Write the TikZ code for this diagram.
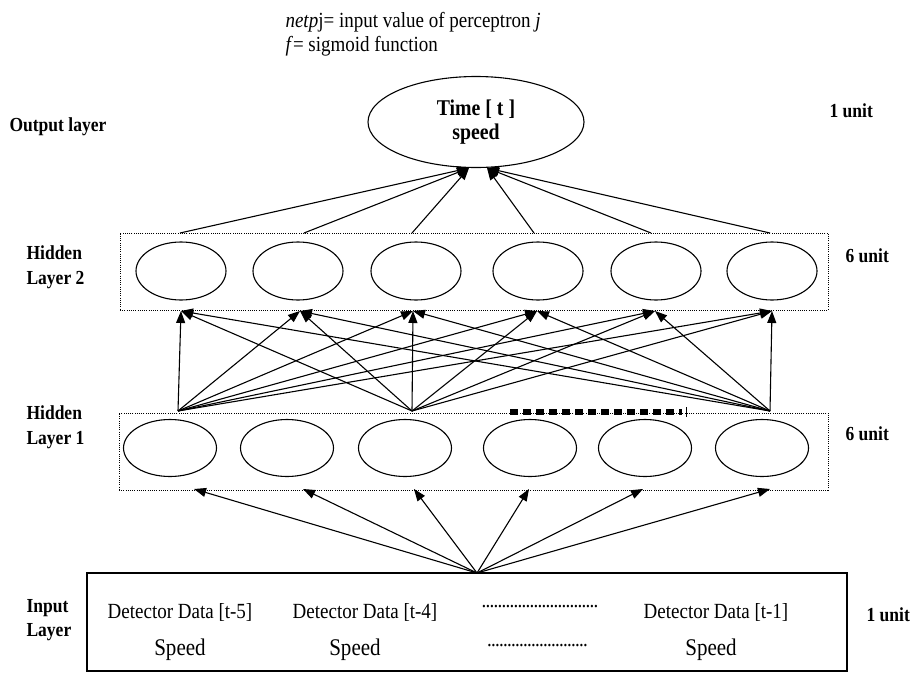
\documentclass[tikz,border=0pt]{standalone}
\usepackage{fontspec}
\setmainfont[FakeStretch=0.88]{Liberation Serif}
\usetikzlibrary{arrows.meta,positioning,shapes.geometric}
\newcommand{\dotrow}[1]{\makebox[#1]{\leaders\hbox to 4pt{\hss.\hss}\hfill}}
\tikzset{
  neuron/.style={draw,ellipse,line width=1.1pt,minimum width=92pt,minimum height=58pt,inner sep=0pt},
  layerbox/.style={draw,line width=0.9pt,dash pattern=on 1pt off 1.2pt,inner sep=0pt},
  lbl/.style={anchor=west,align=left,font=\fontsize{19.9}{24.5}\selectfont\bfseries},
  conn/.style={line width=1.1pt,-{Triangle[length=12pt,width=9pt]}},
  >=Stealth
}

\begin{document}
\begin{tikzpicture}[x=1pt,y=-1pt]
    \useasboundingbox (0,0) rectangle (910,672);
    % legend
    \node[anchor=west,font=\fontsize{21.6}{24}\selectfont] (note1) at (282,22) {\textit{netp}j= input value of perceptron \textit{j}};
    \node[anchor=west,font=\fontsize{21.6}{24}\selectfont] (note2) at (282,46) {\textit{f}= sigmoid function};
    % output layer
    \node[neuron,minimum width=216pt,minimum height=91pt,align=center,font=\fontsize{22.5}{23.5}\selectfont\bfseries] (out) at (476,122) {Time [ t ]\\speed};
    % hidden layers
    \node[layerbox,minimum width=708pt,minimum height=77pt] (hid2) at (474,271.5) {};
    \node[layerbox,minimum width=709pt,minimum height=77pt] (hid1) at (473.5,451.5) {};
    \foreach \x [count=\i] in {181,298,416,538,656,772}
      \node[neuron,minimum width=90pt] (h2-\i) at (\x,271) {};
    \foreach \x [count=\i] in {170,287,405,530,645,762}
      \node[neuron,minimum width=93pt,minimum height=57pt] (h1-\i) at (\x,448) {};
    \draw[line width=6pt,dash pattern=on 8pt off 5pt] (510,412) -- (682,412);
    \draw[line width=0.8pt] (686,407) -- (686,417);
    % input layer
    \node[draw,line width=1.2pt,minimum width=760pt,minimum height=98pt,inner sep=0pt] (inbox) at (467,622) {};
    \node[font=\fontsize{21.6}{22}\selectfont] (d5) at (180,612) {Detector Data [t-5]};
    \node[font=\fontsize{21.6}{22}\selectfont] (d4) at (365,612) {Detector Data [t-4]};
    \node[font=\fontsize{21.6}{22}\selectfont] (dd) at (540,607) {\dotrow{116pt}};
    \node[font=\fontsize{21.6}{22}\selectfont] (d1) at (716,612) {Detector Data [t-1]};
    \node[font=\fontsize{23.9}{24}\selectfont] (s5) at (180,650) {Speed};
    \node[font=\fontsize{23.9}{24}\selectfont] (s4) at (355,650) {Speed};
    \node[font=\fontsize{21.6}{22}\selectfont] (sd) at (539,646) {\dotrow{103pt}};
    \node[font=\fontsize{23.9}{24}\selectfont] (s1) at (711,650) {Speed};
    % layer names
    \node[lbl] (lout) at (6,127) {Output layer};
    \node[lbl] (lh2) at (23,267) {Hidden\\Layer 2};
    \node[lbl] (lh1) at (23,427) {Hidden\\Layer 1};
    \node[lbl] (lin) at (23,620) {Input\\Layer};
    \node[lbl] (u1) at (826,111) {1 unit};
    \node[lbl] (u2) at (842,256) {6 unit};
    \node[lbl] (u3) at (842,434) {6 unit};
    \node[lbl] (u4) at (863,615) {1 unit};
    % connectors
    \coordinate (src) at (477,573);
    \foreach \x [count=\i] in {194,303,414,529,643,770}
      \coordinate (a\i) at (\x,489);
    \foreach \x [count=\i] in {178,412,770}
      \coordinate (b\i) at (\x,411);
    \foreach \x [count=\i] in {181,300,413,537,655,772}
      \coordinate (c\i) at (\x,311);
    \foreach \x [count=\i] in {180,304,412,534,651,770}
      \coordinate (o\i) at (\x,233);
    \coordinate (tl) at (469,168);
    \coordinate (tr) at (487,168);
    \foreach \i in {1,...,6}
      \draw[conn] (src) -- (a\i);
    \foreach \j in {1,2,3}
      \foreach \i in {1,...,6}
        \draw[conn] (b\j) -- (c\i);
    \foreach \i in {1,2,3}
      \draw[conn] (o\i) -- (tl);
    \foreach \i in {4,5,6}
      \draw[conn] (o\i) -- (tr);
  \end{tikzpicture}
\end{document}
